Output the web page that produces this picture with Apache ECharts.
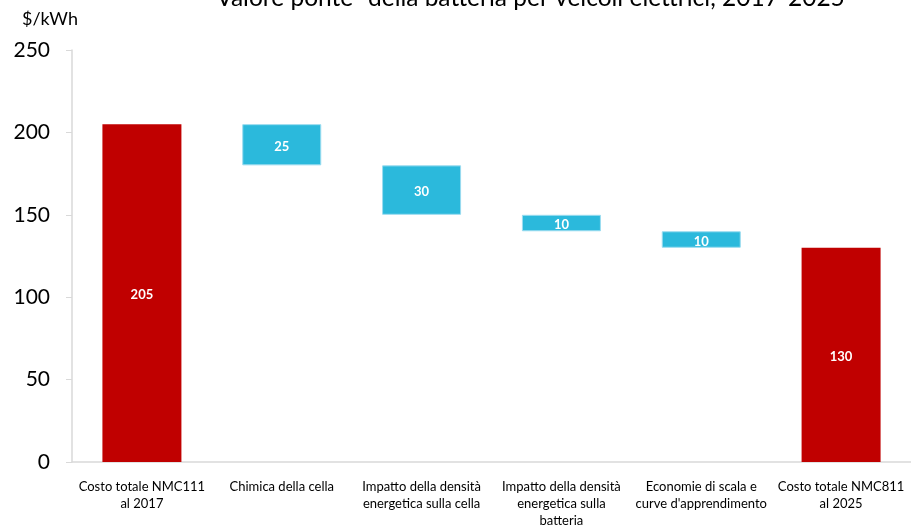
<!DOCTYPE html>
<html>
<head>
<meta charset="utf-8">
<script src="https://cdn.jsdelivr.net/npm/echarts@6/dist/echarts.min.js"></script>
<style>html,body{margin:0;padding:0;background:#fff}#c{width:911px;height:529px}</style>
</head>
<body>
<div id="c"></div>
<script>
const categories = [
  "Costo totale NMC111\nal 2017",
  "Chimica della cella",
  "Impatto della densità\nenergetica sulla cella",
  "Impatto della densità\nenergetica sulla\nbatteria",
  "Economie di scala e\ncurve d'apprendimento",
  "Costo totale NMC811\nal 2025"
];
const values = [205, 25, 30, 10, 10, 130];
const isTotal = [true, false, false, false, false, true];
const yTicks = [0, 50, 100, 150, 200, 250];

// derive invisible bases for the waterfall steps
let running = 0;
const bases = [];
values.forEach((v, i) => {
  if (isTotal[i]) { bases.push(0); running = v; }
  else { running -= v; bases.push(running); }
});

const RED = '#C00000', BLUE = '#2BB9DC';
const chart = echarts.init(document.getElementById('c'));
chart.setOption({
  animation: false,
  title: {
    text: '\u201CValore ponte\u201D della batteria per veicoli elettrici, 2017-2025',
    left: 521, top: -19, textAlign: 'center',
    textStyle: { fontFamily: 'Lato', fontSize: 24.5, fontWeight: 'normal', color: '#000' }
  },
  graphic: [{
    type: 'text', left: 22, top: 10,
    style: { text: '$/kWh', fontFamily: 'Lato', fontSize: 18, fill: '#000' }
  }],
  grid: { left: 72, right: -7.5, top: 50, bottom: 60, containLabel: false },
  xAxis: {
    type: 'category', data: categories,
    axisLine: { lineStyle: { color: '#d9d9d9', width: 1.5 } },
    axisTick: { show: false },
    axisLabel: { interval: 0, margin: 16, fontFamily: 'Lato', fontSize: 13, lineHeight: 17, color: '#000' }
  },
  yAxis: {
    type: 'value', min: 0, max: 250, interval: 50,
    axisLine: { show: true, lineStyle: { color: '#d9d9d9', width: 1.5 } },
    axisTick: { show: true, length: 6, lineStyle: { color: '#d9d9d9' } },
    splitLine: { show: false },
    axisLabel: {
      margin: 22, fontFamily: 'Lato', fontSize: 21, color: '#000',
      formatter: v => yTicks.includes(v) ? String(v) : ''
    }
  },
  series: [
    {
      type: 'bar', stack: 'w', barWidth: 79, silent: true,
      itemStyle: { color: 'transparent' },
      data: bases
    },
    {
      type: 'bar', stack: 'w', barWidth: 79,
      data: values.map((v, i) => ({
        value: v,
        itemStyle: isTotal[i]
          ? { color: RED }
          : { color: BLUE, borderColor: '#9bdcf0', borderWidth: 1 }
      })),
      label: {
        show: true, position: 'inside', color: '#fff',
        fontFamily: 'Lato', fontWeight: 'bold', fontSize: 13,
        offset: [0, 2]
      }
    }
  ]
});
</script>
</body>
</html>
